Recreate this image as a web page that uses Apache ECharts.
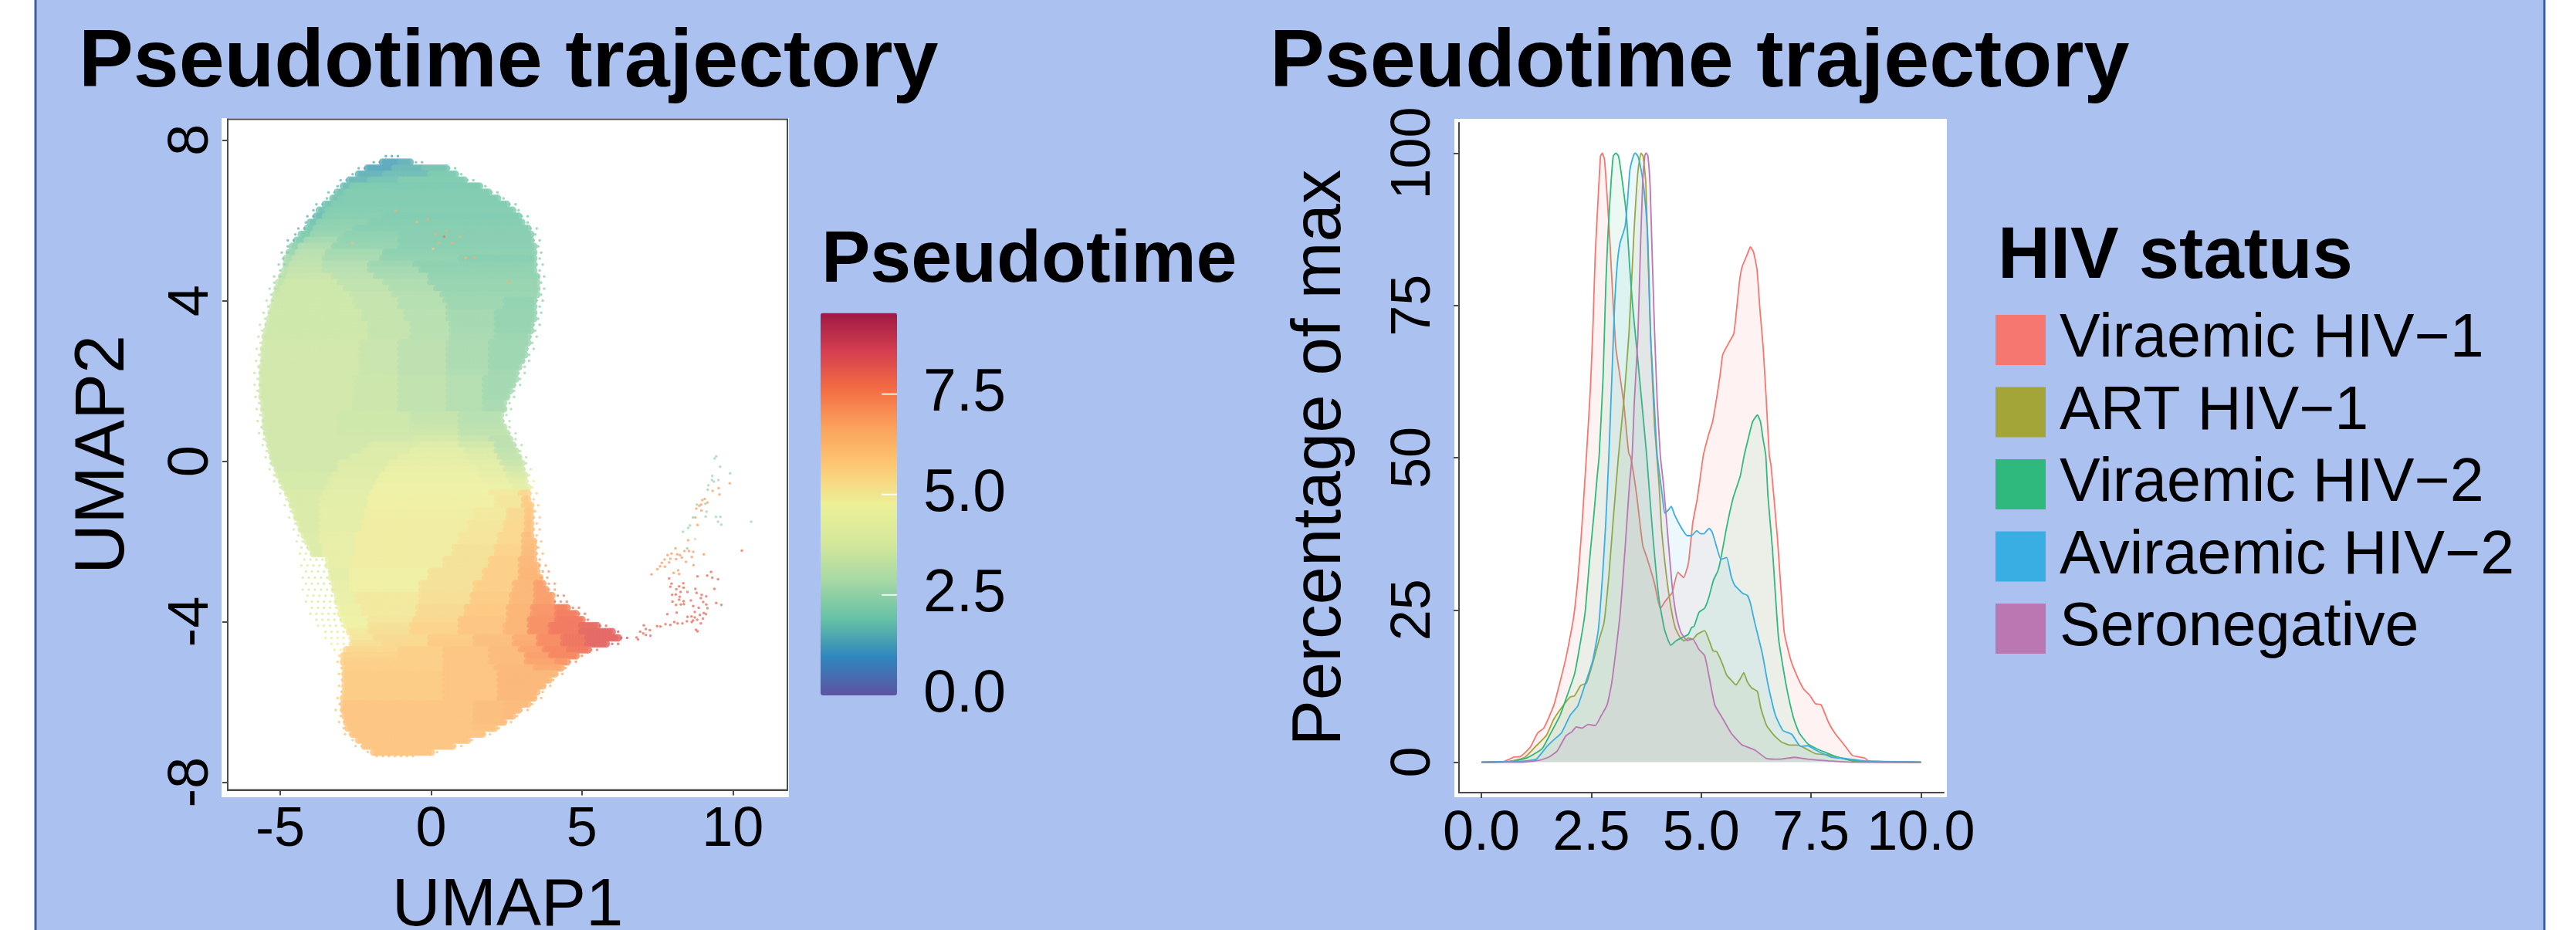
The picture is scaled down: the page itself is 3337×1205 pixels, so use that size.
<!DOCTYPE html>
<html><head><meta charset="utf-8">
<script src="https://cdn.jsdelivr.net/npm/echarts@6/dist/echarts.min.js"></script>
<style>html,body{margin:0;padding:0;background:#fff}#c{width:3337px;height:1205px}</style>
</head><body><div id="c"></div>
<script>
// ---- UMAP cloud.
// Each row: [x0, t, x1, t, x2, ... xEnd] = the pseudotime t seen between UMAP1 limits.
// A negative t marks a thin, speckled stretch of that pseudotime.
const umapRowY = [7.6,7.45,7.3,7.15,7,6.85,6.7,6.55,6.4,6.25,6.1,5.95,5.8,5.65,5.5,5.35,5.2,5.05,4.9,4.75,4.6,4.45,4.3,4.15,4,3.85,3.7,3.55,3.4,3.25,3.1,2.95,2.8,2.65,2.5,2.35,2.2,2.05,1.9,1.75,1.6,1.45,1.3,1.15,1,0.85,0.7,0.55,0.4,0.25,0.1,-0.05,-0.2,-0.35,-0.5,-0.65,-0.8,-0.95,-1.1,-1.25,-1.4,-1.55,-1.7,-1.85,-2,-2.15,-2.3,-2.45,-2.6,-2.75,-2.9,-3.05,-3.2,-3.35,-3.5,-3.65,-3.8,-3.95,-4.1,-4.25,-4.4,-4.55,-4.7,-4.85,-5,-5.15,-5.3,-5.45,-5.6,-5.75,-5.9,-6.05,-6.2,-6.35,-6.5,-6.65,-6.8,-6.95,-7.1,-7.25,-7.35];
const umapRowBands = [
[-1.5,-1.2,-1.0],
[-2.0,-1.3,-1.6,1.3,-1,1.5,-.6,-1.6,-.2],
[-2.4,-1.4,-2.1,1.3,-1.2,1.6,-.2,1.8,.6,-1.9,.9],
[-2.7,-1.5,-2.4,1.5,-1.5,1.7,0,1.9,.9,-2,1.2],
[-3,-1.6,-2.7,1.6,-2,1.8,-1,2,1.2,-2,1.5],
[-3.2,-1.6,-2.9,1.7,-2.6,1.9,1.7,-2,2.0],
[-3.4,-1.7,-3.1,1.8,-2.8,2,2,-2,2.3],
[-3.55,-1.7,-3.25,1.8,-3,2,2.3,-2,2.6],
[-3.8,-1.6,-3.5,1.8,-3.2,2,2.6,-2,2.9],
[-4,-1.5,-3.7,1.8,-3.4,2.05,2.8,-2.05,3.1],
[-4.1,-1.5,-3.8,1.7,-3.5,2.1,-1.5,2,3,-2,3.3],
[-4.25,-1.6,-4,1.8,-3.7,2.2,-2,2.05,3.1,-2.05,3.4],
[-4.4,-1.5,-4.1,1.9,-3.8,2.3,-2.5,2.1,3.3,-2.1,3.55],
[-4.6,-1.5,-4.3,2,-3.9,2.4,-2.8,2.2,-1,2.1,3.35,-2.1,3.6],
[-4.75,-1.5,-4.45,2.1,-4.1,2.6,-3,2.3,-1,2.1,3.4,-2.1,3.65],
[-4.85,-1.7,-4.6,2.3,-4.3,2.8,-3.2,2.4,-1,2.15,3.45,-2.15,3.7],
[-4.95,-1.9,-4.7,2.5,-4.4,3,-3.4,2.6,-1.5,2.2,3.45,-2.2,3.7],
[-5,-2,-4.8,2.7,-4.5,3.1,-3.5,2.7,-1.6,2.3,1,2.1,3.5,-2.1,3.75],
[-5.05,-2.2,-4.8,2.8,-4.6,3.2,-3.5,2.9,-2,2.5,-.5,2.2,3.5,-2.2,3.75],
[-5.1,-2.4,-4.85,3,-4.7,3.3,-3.5,3,-2,2.6,-.3,2.25,3.5,-2.25,3.75],
[-5.2,-2.5,-4.95,3.1,-4.7,3.4,-3.2,3.1,-1.8,2.7,0,2.3,3.55,-2.3,3.8],
[-5.3,-2.7,-5.05,3.2,-4.8,3.5,-3,3.2,-1.5,2.8,0,2.4,3.55,-2.4,3.8],
[-5.35,-2.8,-5.1,3.3,-4.9,3.5,-2.8,3.2,-1.3,2.8,.2,2.4,3.55,-2.4,3.8],
[-5.4,-2.8,-5.15,3.3,-5,3.5,-2.6,3.3,-1.2,2.9,.4,2.45,3.55,-2.45,3.8],
[-5.45,-3,-5.2,3.5,-2.5,3.3,-1,2.9,.5,2.5,2.5,2.3,3.5,-2.3,3.75],
[-5.5,-3,-5.25,3.5,-2.4,3.3,-1,2.9,.6,2.5,2.5,2.3,3.5,-2.3,3.75],
[-5.55,-3.1,-5.3,3.5,-2.2,3.3,-.8,3,.6,2.6,2.2,2.35,3.45,-2.35,3.7],
[-5.6,-3.2,-5.35,3.5,-2.2,3.3,-.8,3,.6,2.6,2.2,2.35,3.45,-2.35,3.7],
[-5.67,-3.2,-5.4,3.5,-2,3.3,-.6,3,.7,2.6,2.2,2.35,3.4,-2.35,3.66],
[-5.7,-3.3,-5.45,3.5,-2,3.3,-.6,3,.7,2.65,2.2,2.4,3.35,-2.4,3.6],
[-5.72,-3.3,-5.5,3.55,-2,3.3,-.6,3,.7,2.7,2.2,2.45,3.3,-2.45,3.55],
[-5.75,-3.4,-5.5,3.6,-2.3,3.4,-1,3.1,.6,2.75,2,2.5,3.25,-2.5,3.5],
[-5.78,-3.4,-5.55,3.6,-2.3,3.4,-1,3.1,.6,2.75,2,2.5,3.2,-2.5,3.45],
[-5.8,-3.4,-5.55,3.6,-2.3,3.4,-1,3.1,.6,2.75,2,2.5,3.15,-2.5,3.4],
[-5.8,-3.4,-5.55,3.6,-2.3,3.4,-1,3.1,.6,2.75,2,2.5,3.05,-2.5,3.3],
[-5.82,-3.4,-5.6,3.6,-2.3,3.4,-1,3.1,.6,2.75,2,2.5,3,-2.5,3.25],
[-5.85,-3.4,-5.6,3.6,-2.3,3.4,-1,3.1,.6,2.8,2,2.55,2.9,-2.55,3.15],
[-5.85,-3.4,-5.6,3.6,-2.5,3.45,-1,3.2,.6,2.9,1.8,2.6,2.85,-2.6,3.1],
[-5.85,-3.4,-5.6,3.6,-2.5,3.45,-1,3.2,.6,2.9,1.8,2.6,2.75,-2.6,3],
[-5.85,-3.4,-5.6,3.6,-2.5,3.45,-1,3.2,.6,2.9,1.8,2.6,2.65,-2.6,2.9],
[-5.82,-3.4,-5.6,3.6,-2.5,3.45,-1,3.2,.6,2.9,1.8,2.6,2.55,-2.6,2.8],
[-5.8,-3.4,-5.55,3.6,-2.5,3.45,-1,3.2,.6,2.9,1.8,2.7,2.5,-2.7,2.75],
[-5.78,-3.4,-5.55,3.6,-2.5,3.45,-1,3.2,.6,2.9,1.8,2.7,2.45,-2.7,2.7],
[-5.76,-3.4,-5.5,3.6,-3,3.5,-.6,3.3,1,3,2.4,-2.9,2.67],
[-5.75,-3.4,-5.5,3.6,-3,3.5,-.6,3.3,1,3,2.4,-2.9,2.67],
[-5.72,-3.4,-5.5,3.6,-3,3.5,-.6,3.4,1,3.1,2.5,-3,2.75],
[-5.7,-3.4,-5.45,3.6,-3,3.55,-.6,3.5,1,3.2,2.6,-3,2.85],
[-5.65,-3.4,-5.4,3.6,-2.5,3.6,-.5,3.7,1,3.4,2,3.1,2.7,-2.9,2.95],
[-5.58,-3.5,-5.35,3.6,-2,3.8,-.3,4,1,3.6,2.2,3.1,2.8,-3,3.03],
[-5.55,-3.5,-5.3,3.6,-2.2,3.9,-.6,4.2,1.2,3.8,2.2,3.2,2.85,-3.1,3.1],
[-5.48,-3.5,-5.25,3.6,-2.6,3.9,-1,4.3,1.3,4,2.3,3.3,2.95,-3.2,3.2],
[-5.42,-3.5,-5.2,3.6,-3,3.9,-1.3,4.4,1.4,4.2,2.4,3.4,3.05,-3.3,3.3],
[-5.35,-3.6,-5.1,3.6,-3,4,-1.4,4.5,1.6,4.3,2.5,3.6,3.1,-3.5,3.35],
[-5.3,-3.6,-5.05,3.7,-3.2,4,-1.6,4.6,1.7,4.4,2.6,3.8,3.15,-3.8,3.4],
[-5.2,-3.6,-4.95,3.7,-3.3,4.1,-1.7,4.6,1.8,4.5,2.7,4.1,3.2,-4.5,3.45],
[-5.1,-3.6,-4.85,3.7,-3.4,4.1,-1.8,4.7,2,4.6,2.8,4.4,3.25,-5,3.5],
[-5,-3.7,-4.75,3.8,-3.5,4.2,-1.9,4.7,2,5,3,5.5,3.3,-5.5,3.52],
[-4.9,-3.7,-4.65,3.8,-3.6,4.2,-2,4.8,2.2,5.1,3.1,5.8,3.3,-5.8,3.55],
[-4.85,-3.7,-4.6,3.8,-3.6,4.2,-2,4.8,2.2,5.1,3.1,5.8,3.35,-5.8,3.58],
[-4.75,-3.7,-4.5,3.8,-3.6,4.3,-2.1,4.85,1.5,5,2.6,5.4,3.2,6,3.35,-6,3.6],
[-4.7,-3.7,-4.45,3.8,-3.6,4.3,-2.1,4.85,1.5,5,2.6,5.4,3.2,6,3.4,-6,3.62],
[-4.6,-3.7,-4.35,3.8,-3.6,4.3,-2.2,4.9,1.3,5.1,2.5,5.5,3.2,6.1,3.4,-6.1,3.63],
[-4.55,-3.8,-4.3,3.8,-3.6,4.3,-2.2,4.9,1.3,5.1,2.5,5.5,3.2,6.1,3.4,-6.1,3.65],
[-4.5,-3.8,-4.2,3.9,-3.6,4.4,-2.4,4.9,1,5.1,2.3,5.5,3.1,6.2,3.4,-6.2,3.66],
[-4.45,-3.8,-4.1,3.9,-3.6,4.4,-2.4,4.9,1,5.1,2.3,5.5,3.1,6.2,3.45,-6.2,3.7],
[-4.4,-3.9,-4,3.9,-3.5,4.4,-2.4,4.9,.8,5.2,2.2,5.6,3.1,6.3,3.45,-6.3,3.7],
[-4.35,-3.9,-3.9,3.9,-3.5,4.4,-2.4,4.9,.8,5.2,2.2,5.6,3.1,6.3,3.5,-6.3,3.72],
[-4.3,-3.9,-3.4,4.4,-2.5,4.9,.5,5.2,2,5.7,3,6.4,3.5,-6.8,3.75],
[-4.3,-3.9,-3.4,4.4,-2.5,4.9,.5,5.2,2,5.7,3,6.4,3.6,-6.8,3.85],
[-4.25,-3.9,-3.3,4.3,-2.6,4.8,0,5.2,1.8,5.7,3,6.5,3.6,-7,3.95],
[-4.25,-3.9,-3.3,4.3,-2.6,4.8,0,5.2,1.8,5.7,3,6.5,3.65,-7,4.05],
[-4.25,-3.9,-3.2,4.4,-2.6,4.8,-.3,5.2,1.5,5.7,2.8,6.4,3.5,7,3.8,-7,4.15],
[-4.25,-3.9,-3.2,4.4,-2.6,4.8,-.3,5.2,1.5,5.7,2.8,6.4,3.5,7,3.9,-7,4.25],
[-4.2,-3.9,-3.1,4.5,-2.4,5,-.3,5.3,1.4,5.8,2.7,6.4,3.5,7,4.1,-7.6,4.5],
[-4.15,-3.9,-3.1,4.5,-2.4,5,-.3,5.3,1.4,5.8,2.7,6.4,3.5,7,4.1,-7.6,4.7],
[-4.05,-3.9,-3,4.6,-2.2,5,-.4,5.4,1.2,5.9,2.6,6.5,3.4,7.2,4.2,7.6,4.6,-7.7,4.95],
[-4,-3.9,-3,4.6,-2.2,5,-.4,5.4,1.2,5.9,2.6,6.5,3.4,7.2,4.2,7.7,4.9,-7.8,5.2],
[-3.9,-3.9,-2.9,4.7,-2,5.1,-.5,5.5,1,6,2.6,6.5,3.3,7.3,4.2,7.8,5.1,-8,5.4],
[-3.75,-4,-2.8,4.8,-2,5.2,-.6,5.6,1,6,2.5,6.5,3.3,7.3,4,7.8,5,8.1,5.6,-8.2,5.9],
[-3.6,-4,-2.7,5,-2,5.3,-.6,5.6,1,6,2.5,6.5,3.3,7.3,4,7.8,5,8.2,6.1,-8.5,6.4],
[-3.5,-4.5,-2.6,5.1,-1.8,5.4,0,5.8,1.5,6.2,2.8,6.7,3.6,7.4,4.4,7.9,5.2,8.2,6.3,-8.5,6.7],
[-3.4,-4.5,-2.6,5.3,-1.5,5.5,0,5.9,1.5,6.2,2.8,6.8,3.6,7.4,4.4,7.9,5.2,8.2,5.9,-8.3,6.3],
[-3.2,-5,-2.8,5.5,-1,5.7,.5,6,2,6.3,3,6.9,3.8,7.5,4.6,7.8,5.3,-7.8,5.6],
[-3.15,-5.5,-2.9,5.6,-1,5.7,.5,6,2,6.3,3.2,7,4,7.5,4.9,-7.5,5.2],
[-3.1,-5.7,-2.9,5.7,.5,6,2,6.3,3.2,6.9,4.2,7.2,4.6,-7.2,4.85],
[-3.07,-5.8,-2.85,5.7,.5,6,2.2,6.4,3.5,6.8,4.35,-6.8,4.6],
[-3.05,-5.8,-2.85,5.8,.5,6,2.3,6.4,4.15,-6.6,4.4],
[-3.05,-5.8,-2.85,5.8,.5,6,2.3,6.4,3.95,-6.5,4.2],
[-3.05,-5.9,-2.85,5.8,.5,6,2.3,6.4,3.75,-6.5,4],
[-3.07,-5.9,-2.85,5.8,.5,6,2.3,6.4,3.6,-6.4,3.85],
[-3.1,-5.9,-2.9,5.8,.5,6,2.3,6.4,3.45,-6.4,3.7],
[-3.13,-6,-2.9,6,1.5,6.2,2.5,6.3,3.25,-6.3,3.5],
[-3.16,-6,-2.9,6,1.5,6.2,2.5,6.3,3,-6.3,3.25],
[-3.1,-6,-2.85,6,1.5,6.2,2.5,6.3,2.75,-6.3,3],
[-3.05,-6,-2.8,6,1.5,6.2,2.45,-6.3,2.7],
[-3,-6,-2.75,6,1.5,6.1,2.15,-6.2,2.4],
[-2.85,-6,-2.6,6,1.75,-6.1,2],
[-2.7,-6,-2.4,6,1.25,-6.1,1.5],
[-2.5,-6,-2.2,6,.8,-6,1.1],
[-2.2,-6,-1.9,6,.1,-6,.4],
[-1.8,-6,-.4]];

// ---- stray cells read individually: UMAP1, UMAP2, pseudotime
const strayX = [9.45,9.40,9.58,9.91,9.32,9.31,9.52,9.37,9.19,9.17,9.09,9.13,8.68,9.10,9.44,9.59,9.51,9.62,10.61,8.58,8.52,8.35,8.75,8.49,8.81,
9.90,9.53,9.33,9.56,9.07,8.99,9.16,8.95,8.89,8.79,8.96,8.76,8.83,8.52,
8.10,7.97,7.84,8.16,8.40,8.55,8.69,8.25,9.04,7.93,7.74,8.12,8.31,8.64,7.65,7.89,8.45,8.70,7.59,7.75,7.50,8.04,8.19,7.31,8.22,10.30,
8.83,9.15,9.28,9.32,9.51,7.89,7.97,8.36,7.93,8.22,8.37,8.13,9.39,8.76,8.27,8.50,8.80,7.99,8.11,8.24,8.97,9.12,8.94,8.22,8.37,8.00,8.61,9.02,9.45,9.62,9.12,8.12,8.28,8.38,8.69,8.87,9.16,8.74,9.04,8.14,7.83,8.91,9.11,8.63,8.50,8.74,9.01,8.48,8.68,8.82,8.64,8.94,8.06,8.17,8.33,7.77,7.93,7.49,7.60,8.78,8.83,
7.05,7.25,7.12,6.93,7.03,7.27,7.12,6.81,6.86,
0.43,0.16,0.70,0.97,-0.11,-0.47,1.15,1.42,2.58,-1.18,-2.62,0.07,0.52,0.25];
const strayY = [0.12,0.07,-0.14,-0.30,-0.37,-0.47,-0.47,-0.51,-0.60,-0.71,-1.06,-1.26,-1.40,-1.38,-1.39,-1.39,-1.51,-1.58,-1.51,-1.60,-1.66,-1.76,-1.94,-2.17,-1.08,
-0.55,-0.67,-0.74,-0.83,-0.94,-0.97,-1.03,-1.08,-1.11,-1.18,-1.23,-1.40,-1.59,-1.97,
-2.17,-2.30,-2.34,-2.32,-2.24,-2.24,-2.26,-2.34,-2.32,-2.43,-2.45,-2.44,-2.40,-2.39,-2.53,-2.52,-2.51,-2.59,-2.62,-2.63,-2.69,-2.78,-2.72,-2.82,-2.81,-2.23,
-2.87,-2.85,-2.76,-2.90,-2.94,-2.92,-3.05,-3.04,-3.13,-3.12,-3.15,-3.19,-3.18,-3.18,-3.26,-3.26,-3.28,-3.33,-3.32,-3.38,-3.33,-3.37,-3.41,-3.45,-3.49,-3.50,-3.47,-3.51,-3.53,-3.58,-3.57,-3.58,-3.57,-3.56,-3.61,-3.65,-3.66,-3.76,-3.78,-3.77,-3.81,-3.83,-3.81,-3.87,-3.88,-3.89,-3.92,-3.99,-3.97,-3.95,-4.01,-4.04,-4.01,-4.04,-4.04,-4.06,-4.08,-4.11,-4.12,-4.20,-4.24,
-4.09,-4.21,-4.18,-4.25,-4.29,-4.35,-4.33,-4.39,-4.44,
5.59,5.66,5.44,5.59,6.03,5.96,5.07,5.07,4.48,6.25,5.44,5.29,5.74,5.44];
const strayT = [2.6,2.6,2.6,2.6,2.6,2.6,2.6,2.6,2.6,2.6,2.6,2.6,2.4,2.6,2.6,2.6,2.6,2.6,2.6,2.6,2.6,2.6,3.4,2.4,2.6,
6.9,6.9,6.9,6.9,6.9,6.9,6.9,6.9,6.9,6.9,6.9,6.9,6.9,6.9,
7,7,7,7,7,7,7,7,7,7,7,7,7,7,7,7,7,7,7,7,7,7,7,7,7,7.8,
8,8,8,8,8,8,8,8,8,8,8,8,8,8,8,8,8,8,8,8,8,8,8,8,8,8,8,8,8,8,8,8,8,8,8,8,8,8,8,8,8,8,8,8,8,8,8,8,8,8,8,8,8,8,8,8,8,8,8,8,8,8,
8,8,8,8,8,8,8,8,8,
6.8,6.8,6.8,6.8,6.5,6.5,6.8,6.8,6.8,6.5,6,6.8,6.8,6.8];

const colorbarTicks = [0, 2.5, 5, 7.5];
const colorbarTickMarks = [2.5, 5, 7.5];
const colorbarMax = 9.52;
const spectralStops = ['#5e53a3','#2f86bd','#66c2a5','#a6d8a4','#d5e89a','#ecf097','#fdc873','#fba25c','#f46d43','#d53e4f','#9e1a45'];
const paleCloudStops = ['#766db1','#4e98c7','#7dcbb2','#b3deb2','#dbeba9','#eff2a7','#fdd088','#fcb074','#f6835f','#db5b69','#ac3c61'];
const umapXTicks = [-5, 0, 5, 10];
const umapYTicks = [-8, -4, 0, 4, 8];

// ---- density curves
const hivNames = ['Viraemic HIV\u22121','ART HIV\u22121','Viraemic HIV\u22122','Aviraemic HIV\u22122','Seronegative'];
const hivColors = ['#f6776f','#a3a538','#2fb97c','#38aee3','#ba77b2'];
const v1X = [0,0.51,0.745,0.88,1.11,1.28,1.42,1.65,1.92,2.09,2.19,2.26,2.32,2.39,2.48,2.54,2.59,2.65,2.71,2.75,2.80,2.86,2.92,3.0,3.06,3.15,3.24,3.35,3.40,3.53,3.67,3.77,3.94,4.07,4.17,4.27,4.34,4.47,4.60,4.71,4.81,4.91,5.05,5.17,5.26,5.35,5.43,5.49,5.64,5.74,5.79,5.87,5.93,6.05,6.12,6.19,6.27,6.34,6.41,6.48,6.55,6.59,6.73,6.89,7.03,7.16,7.33,7.47,7.60,7.73,7.90,8.04,8.27,8.44,8.57,8.71,8.84,10];
const v1Y = [0,0.13,0.85,0.9,2.45,4.8,5.6,9.4,17,23.4,29.7,36,42.4,50.4,61.4,72,83.4,91.8,99.5,100,99,93,86,75,68,63.5,58.9,50.8,50,44,35.6,33.5,29.3,25.2,26.3,27.2,27.8,31.2,30.3,32.7,39.4,43.2,50.4,53.8,55.9,59.7,63.5,66.9,69,70.3,73.2,78.8,81.3,83.4,84.6,83.8,80.9,74.1,68.2,59.7,50.4,48.7,37.3,21.3,17,14.5,12,11,9.6,9.4,6.5,4.8,2.7,1.1,0.9,0.7,0.1,0];
const art1X = [0,0.64,0.98,1.25,1.48,1.65,1.85,2.02,2.12,2.26,2.39,2.53,2.69,2.79,2.9,3.0,3.12,3.24,3.36,3.47,3.56,3.63,3.68,3.74,3.79,3.85,3.94,4.04,4.10,4.21,4.31,4.41,4.51,4.61,4.71,4.81,4.91,5.08,5.18,5.27,5.36,5.48,5.58,5.68,5.79,5.89,5.97,6.05,6.15,6.28,6.36,6.49,6.66,6.83,7.03,7.2,7.36,7.6,7.9,8.24,8.51,10];
const art1Y = [0,0.13,0.76,2.7,4.4,7.1,9.2,10.7,10.9,12.6,13,16.2,20.4,22.9,30.6,39.9,50.4,59.3,70.7,86.8,96.9,100,99.5,95.2,83.4,69.9,55.1,45.8,38.2,30.6,25.5,22.1,20.6,19.9,20.4,20.2,21,21.6,20,18.3,18.1,16.2,14.3,13.5,12.7,13.7,14.7,13.2,12.2,11.6,8.8,6,4.4,3.3,2.8,2.8,2.3,1.4,1.2,0.6,0.1,0];
const v2X = [0,0.71,1.05,1.38,1.58,1.79,1.92,2.12,2.26,2.36,2.46,2.56,2.63,2.68,2.77,2.83,2.88,2.95,3.0,3.06,3.12,3.21,3.30,3.37,3.44,3.53,3.62,3.76,3.80,3.90,4.04,4.17,4.31,4.44,4.61,4.71,4.78,4.84,4.95,5.08,5.18,5.28,5.38,5.45,5.58,5.72,5.89,5.98,6.08,6.17,6.28,6.35,6.41,6.47,6.52,6.62,6.76,6.93,7.1,7.23,7.43,7.63,7.83,8.1,8.51,10];
const v2Y = [0,0.13,0.76,2.2,4.8,7.7,10.3,14.5,20,24.6,33.1,40.7,46.6,50.4,63.5,78.3,86.8,95.2,99.5,100,99.5,95.2,89.7,81.7,75,68.2,61.4,50.4,46.6,37.3,26.8,21.7,19.2,20,20.6,21,22.1,22.3,24.6,25.3,27.2,29.9,31.4,33.5,38.6,43.2,47,50.4,53.4,55.9,57,55.9,53,50.4,43.7,35.2,20.4,12.8,7.3,4.8,3,2.2,1.6,0.8,0.2,0];
const av2X = [0,0.91,1.25,1.48,1.65,1.82,2.02,2.19,2.36,2.53,2.66,2.76,2.83,2.9,2.97,3.03,3.09,3.15,3.27,3.33,3.38,3.47,3.5,3.56,3.62,3.68,3.74,3.79,3.85,3.93,4.0,4.11,4.17,4.24,4.32,4.39,4.54,4.68,4.78,4.9,4.99,5.06,5.18,5.25,5.35,5.45,5.58,5.68,5.76,5.95,6.05,6.12,6.22,6.39,6.52,6.69,6.86,7.06,7.26,7.43,7.6,7.97,8.3,8.71,10];
const av2Y = [0,0.13,0.5,2.5,3.7,4.8,7.7,9.2,12.8,16.6,21.7,31,39.4,50.4,63.5,74.9,81.7,85.1,88,92.7,97.3,99.8,100,99.5,97.8,95.2,91,85.1,69.9,59.3,50.4,44.1,40.9,41.3,42,40.7,38.6,37.2,37.2,38,37.5,37.5,38.4,37.8,35.4,33.3,33.6,30.6,29.1,27.7,27.4,26.1,22.9,17.9,12.8,7.7,5.2,4.6,2.6,2.7,2,0.8,0.6,0.2,0];
const seroX = [0,0.91,1.32,1.55,1.72,1.92,2.06,2.16,2.29,2.43,2.59,2.73,2.86,2.96,3.06,3.16,3.27,3.37,3.43,3.48,3.56,3.62,3.67,3.72,3.75,3.79,3.84,3.88,3.94,4.0,4.07,4.14,4.24,4.34,4.44,4.54,4.68,4.81,4.95,5.08,5.18,5.31,5.48,5.68,5.92,6.22,6.49,6.79,7.13,7.43,7.9,8.44,10];
const seroY = [0,0,0.3,0.9,1.8,4.3,5,5.8,5.6,6.2,6,7.7,9.4,12.8,18.3,24.6,35.2,45.8,50.4,59.3,69.9,84.7,95.2,99.7,100,99.5,94.4,84.7,70.7,59.3,50.4,45.8,37.3,28.9,23.8,21.3,20,20.2,18.5,17.5,14.1,9.4,7.3,4.8,2.9,2,0.6,0.5,0.8,0.5,0.2,0,0];
const hivX = [v1X, art1X, v2X, av2X, seroX];
const hivY = [v1Y, art1Y, v2Y, av2Y, seroY];
const densityXTicks = [0, 2.5, 5, 7.5, 10];
const densityYTicks = [0, 25, 50, 75, 100];

const zip = (xs, ys) => xs.map((x, i) => [x, ys[i]]);
const umapPoints = [];
const finePoints = strayX.map((x, i) => [x, strayY[i], strayT[i]]);
umapRowBands.forEach((row, r) => {
  for (let k = 0; k + 2 < row.length; k += 2) {
    const from = row[k], t = row[k + 1], to = row[k + 2];
    if (t > 0) {
      for (let x = from; x < to - 1e-6; x += 0.1) umapPoints.push([x, umapRowY[r], t]);
    } else {
      for (let x = from + (r % 2) * 0.1; x < to - 1e-6; x += 0.2) finePoints.push([x, umapRowY[r], -t]);
    }
  }
});

const FONT = '"Liberation Sans", Arial, sans-serif';
const ink = '#000';
const axisGrey = '#4a4a4a';

const chart = echarts.init(document.getElementById('c'), null, {renderer: 'canvas'});
chart.setOption({
  animation: false,
  backgroundColor: '#fff',
  textStyle: {fontFamily: FONT, color: ink},
  graphic: [
    {type: 'rect', z: -3, silent: true, shape: {x: 46, y: -5, width: 3250, height: 1215}, style: {fill: '#abc1f0', stroke: '#3f5f9f', lineWidth: 3}},
    {type: 'rect', z: -2, silent: true, shape: {x: 287, y: 153, width: 735, height: 880}, style: {fill: '#fff'}},
    {type: 'rect', z: -2, silent: true, shape: {x: 1884, y: 154, width: 638, height: 879}, style: {fill: '#fff'}}
  ],
  title: [
    {text: 'Pseudotime trajectory', left: 102, top: 30, padding: 0, textStyle: {fontFamily: FONT, fontSize: 106, fontWeight: 'bold', color: ink}},
    {text: 'Pseudotime trajectory', left: 1645, top: 30, padding: 0, textStyle: {fontFamily: FONT, fontSize: 106, fontWeight: 'bold', color: ink}},
    {text: 'Pseudotime', left: 1064, top: 291, padding: 0, textStyle: {fontFamily: FONT, fontSize: 95, fontWeight: 'bold', color: ink}},
    {text: 'HIV status', left: 2588, top: 287, padding: 0, textStyle: {fontFamily: FONT, fontSize: 94, fontWeight: 'bold', color: ink}}
  ],
  grid: [
    {left: 295, top: 154.5, width: 725, height: 869, show: true, borderColor: axisGrey, borderWidth: 2, backgroundColor: 'transparent', outerBoundsMode: 'none'},
    {left: 1890, top: 159, width: 628, height: 868, outerBoundsMode: 'none'},
    {left: 1063, top: 405.5, width: 99, height: 495.5, outerBoundsMode: 'none'}
  ],
  xAxis: [
    {gridIndex: 0, type: 'value', min: -6.74, max: 11.81, splitLine: {show: false},
     axisLine: {show: true, onZero: false, lineStyle: {color: axisGrey, width: 2}},
     axisTick: {show: true, length: 7, lineStyle: {color: axisGrey, width: 2}, customValues: umapXTicks},
     axisLabel: {fontSize: 72, color: ink, fontFamily: FONT, margin: 17, customValues: umapXTicks},
     name: 'UMAP1', nameLocation: 'middle', nameGap: 108, nameTextStyle: {fontSize: 87, color: ink, fontFamily: FONT}},
    {gridIndex: 1, type: 'value', min: -0.51, max: 10.52, splitLine: {show: false},
     axisLine: {show: true, onZero: false, lineStyle: {color: axisGrey, width: 2}},
     axisTick: {show: true, length: 7, lineStyle: {color: axisGrey, width: 2}, customValues: densityXTicks},
     axisLabel: {fontSize: 72, color: ink, fontFamily: FONT, margin: 18, customValues: densityXTicks, formatter: v => v.toFixed(1)}},
    {gridIndex: 2, type: 'value', min: 0, max: 1, show: false}
  ],
  yAxis: [
    {gridIndex: 0, type: 'value', min: -8.19, max: 8.52, splitLine: {show: false},
     axisLine: {show: true, onZero: false, lineStyle: {color: axisGrey, width: 2}},
     axisTick: {show: true, length: 7, lineStyle: {color: axisGrey, width: 2}, customValues: umapYTicks},
     axisLabel: {fontSize: 74, color: ink, fontFamily: FONT, rotate: 90, margin: 9, customValues: umapYTicks},
     name: 'UMAP2', nameLocation: 'middle', nameGap: 115, nameRotate: 90, nameTextStyle: {fontSize: 90, color: ink, fontFamily: FONT}},
    {gridIndex: 1, type: 'value', min: -5, max: 105, splitLine: {show: false},
     axisLine: {show: true, onZero: false, lineStyle: {color: axisGrey, width: 2}},
     axisTick: {show: true, length: 7, lineStyle: {color: axisGrey, width: 2}, customValues: densityYTicks},
     axisLabel: {fontSize: 72, color: ink, fontFamily: FONT, rotate: 90, margin: 22, customValues: densityYTicks},
     name: 'Percentage of max', nameLocation: 'middle', nameGap: 134, nameRotate: 90, nameTextStyle: {fontSize: 89, color: ink, fontFamily: FONT}},
    {gridIndex: 2, type: 'value', min: 0, max: colorbarMax, position: 'right', splitLine: {show: false},
     axisLine: {show: false},
     axisTick: {show: false},
     axisLabel: {fontSize: 77, color: ink, fontFamily: FONT, margin: 34, customValues: colorbarTicks, formatter: v => v.toFixed(1), padding: [0, 0, 18, 0]}}
  ],
  visualMap: [
    {type: 'continuous', seriesIndex: [], dimension: 2, min: 0, max: colorbarMax,
     left: 1063, top: 405.5, itemWidth: 99, itemHeight: 495.5, padding: 0, text: null,
     calculable: false, realtime: false, hoverLink: false,
     inRange: {color: spectralStops}},
    {type: 'continuous', show: false, seriesIndex: [0, 1], dimension: 2, min: 0, max: colorbarMax,
     inRange: {color: paleCloudStops}}
  ],
  legend: {
    show: true, orient: 'vertical', left: 2585, top: 401, padding: 0, itemWidth: 65, itemHeight: 65, itemGap: 14.5,
    icon: 'rect', selectedMode: false, data: hivNames,
    textStyle: {fontSize: 79, color: ink, fontFamily: FONT, padding: [0, 0, 0, 13]}
  },
  series: [
    {type: 'scatter', xAxisIndex: 0, yAxisIndex: 0, data: umapPoints, symbol: 'circle', symbolSize: 10, itemStyle: {opacity: 0.85}, silent: true, z: 2},
    {type: 'scatter', xAxisIndex: 0, yAxisIndex: 0, data: finePoints, symbol: 'circle', symbolSize: 3.5, itemStyle: {opacity: 0.8}, silent: true, z: 3},
    // white tick marks on the colour bar, at its labelled values
    {type: 'scatter', xAxisIndex: 2, yAxisIndex: 2, data: colorbarTickMarks.map(v => [0.9, v]), symbol: 'rect', symbolSize: [20, 2], itemStyle: {color: '#fff', opacity: 0.85}, silent: true, z: 20}
  ].concat(hivNames.map((name, i) => ({
    type: 'line', name, xAxisIndex: 1, yAxisIndex: 1, data: zip(hivX[i], hivY[i]),
    showSymbol: false, symbol: 'none', smooth: 0.15, z: 3 + i, silent: true,
    itemStyle: {color: hivColors[i]},
    lineStyle: {color: hivColors[i], width: 1.8},
    areaStyle: {color: hivColors[i], opacity: 0.09}
  })))
});
</script></body></html>
